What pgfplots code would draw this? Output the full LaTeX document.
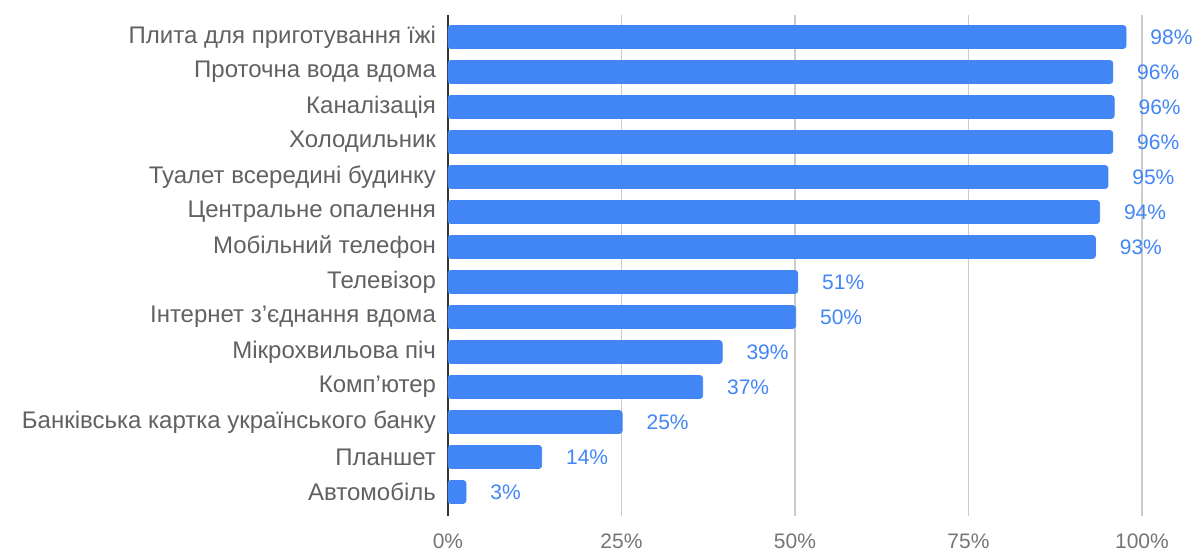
\documentclass[border=0pt]{standalone}
\usepackage{fontspec}
\setmainfont{Liberation Sans}
\usepackage{pgfplots}
\pgfplotsset{compat=1.18}

\definecolor{barblue}{HTML}{4285F4}
\definecolor{labgray}{HTML}{616161}
\definecolor{tickgray}{HTML}{757575}
\definecolor{gridgray}{HTML}{CCCCCC}

\begin{document}
\begin{tikzpicture}
% page = 1195 x 555 px at 0.5pt per px
\useasboundingbox (-224pt,-19.5pt) rectangle (373.5pt,258pt);
\begin{axis}[
    scale only axis,
    width=347pt,
    height=250.5pt,
    xbar,
    bar width=11.5pt,
    xmin=0, xmax=100,
    ymin=-0.629, ymax=13.686,
    y dir=reverse,
    xtick={0,25,50,75,100},
    xticklabels={0\%,25\%,50\%,75\%,100\%},
    ytick={0,...,13},
    yticklabels={
        Плита для приготування їжі,
        Проточна вода вдома,
        Каналізація,
        Холодильник,
        Туалет всередині будинку,
        Центральне опалення,
        Мобільний телефон,
        Телевізор,
        Інтернет з’єднання вдома,
        Мікрохвильова піч,
        Комп’ютер,
        Банківська картка українського банку,
        Планшет,
        Автомобіль},
    axis x line*=bottom,
    axis y line*=left,
    x axis line style={draw=none},
    y axis line style={draw=black!80, line width=0.6pt},
    major tick length=0pt,
    xmajorgrids,
    grid style={gridgray, line width=0.6pt},
    xticklabel style={font=\fontsize{10.5}{12}\selectfont, text=tickgray, yshift=-5.5pt},
    yticklabel style={font=\fontsize{12}{14}\selectfont, text=labgray, xshift=-2.5pt},
    point meta=explicit symbolic,
    nodes near coords={\pgfplotspointmeta\%},
    every node near coord/.append style={anchor=west, inner sep=0pt, xshift=12pt,
        font=\fontsize{10.5}{12}\selectfont, text=barblue},
]
\addplot[fill=barblue, draw=barblue, rounded corners=1.5pt] coordinates {
    (97.7,0) [98]
    (95.8,1) [96]
    (96.0,2) [96]
    (95.8,3) [96]
    (95.1,4) [95]
    (93.9,5) [94]
    (93.3,6) [93]
    (50.4,7) [51]
    (50.1,8) [50]
    (39.5,9) [39]
    (36.7,10) [37]
    (25.1,11) [25]
    (13.5,12) [14]
    (2.6,13) [3]
};
\end{axis}
\end{tikzpicture}
\end{document}
